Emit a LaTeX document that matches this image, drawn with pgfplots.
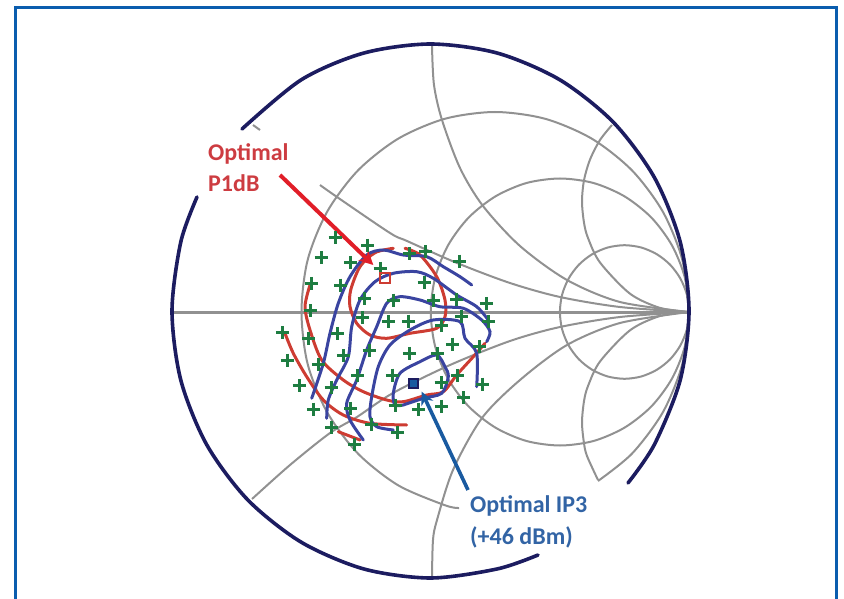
\documentclass[border=0pt]{standalone}
\usepackage{pgfplots}
\pgfplotsset{compat=1.18}
\usepackage{fontspec}
\setmainfont{Carlito}
\usetikzlibrary{arrows.meta}
\definecolor{gridgray}{RGB}{145,145,145}
\definecolor{navyring}{RGB}{28,28,96}
\definecolor{framblue}{RGB}{10,93,174}
\definecolor{cred}{RGB}{205,60,50}
\definecolor{cblue}{RGB}{58,68,160}
\definecolor{arrred}{RGB}{225,30,40}
\definecolor{arrblue}{RGB}{25,90,160}
\definecolor{txtred}{RGB}{205,60,65}
\definecolor{txtblue}{RGB}{50,100,165}
\definecolor{cgreen}{RGB}{30,125,65}
\begin{document}
\begin{tikzpicture}
\useasboundingbox (0,0) rectangle (844pt,599pt);
\begin{axis}[
  scale only axis, width=844pt, height=599pt,
  xmin=0, xmax=844, ymin=0, ymax=599, y dir=reverse,
  hide axis, clip=true,
  grid line/.style={gridgray, line width=2pt, no marks, smooth},
  contourred/.style={cred, line width=3pt, no marks, smooth, line cap=round},
  contourblue/.style={cblue, line width=3pt, no marks, smooth, line cap=round},
]
% frame
\addplot[framblue, line width=3pt, no marks] coordinates {(15.3,605) (15.3,8) (836.7,8) (836.7,605)};
% Smith grid
\addplot[gridgray, line width=2.4pt, no marks] coordinates {(172,312.5) (689,312.5)};
\addplot[grid line] coordinates {(689,312) (682.4,260.2) (663,212) (632.2,170.6) (592,138.8) (545.2,118.8) (495,112) (444.8,118.8) (398,138.8) (357.8,170.6) (327,212) (307.6,260.2) (301.5,312) (307.6,363.8) (327,412) (357.8,453.4) (398,485.2) (444.8,505.2) (459,508)};
\addplot[grid line] coordinates {(598,481) (632.2,453.4) (663,412) (682.4,363.8) (689,312)};
\addplot[grid line] coordinates {(689,312) (684.8,277.4) (671.9,245.25) (651.4,217.6) (624.6,196.4) (593.5,183) (560,178.5) (526.5,183) (495.4,196.4) (468.6,217.6) (448.1,245.25) (435.2,277.4) (430.75,312) (435.2,346.6) (448.1,378.75) (468.6,406.4) (495.4,427.6) (526.5,441) (560,445.5) (593.5,441) (624.6,427.6) (651.4,406.4) (671.9,378.75) (684.8,346.6) (689,312)};
\addplot[grid line] coordinates {(689,312) (686.9,294.7) (680.4,278.6) (670.2,264.8) (656.8,254.2) (641.2,247.5) (624.5,245.2) (607.8,247.5) (592.2,254.2) (578.8,264.8) (568.6,278.6) (562.1,294.7) (559.9,312) (562.1,329.3) (568.6,345.4) (578.8,359.2) (592.2,369.8) (607.8,376.5) (624.5,378.8) (641.2,376.5) (656.8,369.8) (670.2,359.2) (680.4,345.4) (686.9,329.3) (689,312)};
\addplot[grid line] coordinates {(432,46) (434,85) (442,120) (460,168) (483,206) (520,246) (567,280) (620,302) (689,312)};
\addplot[grid line] coordinates {(432,577) (433,540) (437,520) (453,470) (482,418) (520,380) (567,345) (620,323) (689,312)};
\addplot[grid line] coordinates {(612,125) (600,140) (590,159.6) (584,180.3) (582,201.5) (584,222.7) (588,238) (600,262.5) (630,293.7) (660,307.9) (689,312)};
\addplot[grid line] coordinates {(598,480) (587,456) (584,443.3) (582,422.5) (584,401.2) (588,386) (600,361.5) (630,330.3) (660,316) (689,312)};
\addplot[grid line] coordinates {(320,185) (337,197) (390,233) (407,241) (457,263) (510,283) (560,297) (620,307) (689,312)};
\addplot[grid line] coordinates {(253,125) (260,130)};
\addplot[grid line] coordinates {(252,499) (290,465) (330,433) (357,417) (393,393) (450,365) (510,341) (560,327) (620,317) (689,312)};
% outer circle
\addplot[navyring, line width=3.6pt, no marks, smooth, line cap=round] coordinates {(242,129) (301.25,79.8) (363.6,53.1) (430.5,44) (497.4,53.1) (559.8,79.8) (613.3,122.2) (654.4,177.5) (680.2,241.9) (689,311) (680.2,380.1) (654.4,444.5) (628,483)};
\addplot[navyring, line width=3.6pt, no marks, smooth, line cap=round] coordinates {(538,555) (497.4,568.9) (430.5,578) (363.6,568.9) (301.25,542.2) (247.7,499.8) (206.6,444.5) (180.8,380.1) (172,311) (180.8,241.9) (197,197)};
% measured points
\addplot[only marks, mark=+, mark size=6.5pt, cgreen, mark options={line width=3pt}] coordinates {
(335,237.3) (367.7,245) (321,257.7) (350.7,262.7) (409,253.3) (425.7,251.7) (459,261) (380,268.3)
(311.7,283.3) (340.7,285) (424,282.3) (364,298.3) (393.3,300) (433.3,300) (456.7,299.3) (486,303.3)
(310,310.7) (362.7,317.3) (388.3,321.7) (408.3,321) (461.7,316.7) (488.3,321.7) (441.7,325)
(282.3,332.7) (337.3,333.3) (308.3,338.3) (452.3,344) (369,350.7) (409.3,353.3) (343.3,355.7) (437.7,353.3) (479.3,346.7)
(287.3,360) (318.3,364) (357.7,375.7) (392.3,375) (457.3,375) (441,382.3) (482.7,384)
(299,385.7) (331,387.3) (395,405) (313.3,409) (350.7,408.3) (418.3,409.3) (441.7,406) (463.3,397.7)
(331.7,427.3) (371.7,424) (397.7,432.3) (354,444)};
% P1dB contours
\addplot[contourred] coordinates {(405,248.3) (420,255) (436.7,276.7) (445,300) (445,316.7) (436.7,328.3) (410,333.3) (386.7,338.3) (370,335) (356.7,323.3) (350,306.7) (350.7,290) (360,266.7) (375,252.7) (393.3,248.3)};
\addplot[contourred] coordinates {(310,285) (305,306.7) (310,330) (321.7,360) (343.3,380) (363.3,391.7) (386.7,400) (403.3,401.7) (426.7,395) (443.3,391.7) (456.7,375) (473.3,356.7) (485,343.3)};
\addplot[contourred] coordinates {(285,333.3) (293.3,353.3) (306.7,376.7) (323.3,400) (343.3,415) (370,423.3) (406.7,425)};
\addplot[contourred] coordinates {(338.3,431.7) (360,440)};
% IP3 contours
\addplot[contourblue] coordinates {(311.7,398.3) (323.3,363.3) (330,333.3) (338.3,303.3) (350,276.7) (366.7,255) (383.3,250) (403.3,255) (426.7,256.7) (443.3,266.7) (460,276.7) (471.7,285)};
\addplot[contourblue] coordinates {(326.7,418.3) (328.3,400) (336.7,380) (348.3,356.7) (351.7,326.7) (360,300) (375,281.7) (393.3,273.3) (416.7,271.7) (433.3,278.3) (456.7,295) (476.7,306.7) (488.3,320)};
\addplot[contourblue] coordinates {(363.3,440) (350,420) (346.7,403.3) (356.7,380) (366.7,350) (376.7,326.7) (386.7,303.3) (400,296.7) (420,300) (440,306.7) (463.3,308.3) (481.7,320) (490,331.7) (486.7,341.7)};
\addplot[contourblue] coordinates {(393.3,430) (376.7,426.7) (370,416.7) (371.7,396.7) (378.3,366.7) (390,345) (410,330) (433.3,320) (460,321.7) (465,338.3) (476.7,353.3) (476.7,386.7)};
\addplot[contourblue] coordinates {(403.3,405) (395,405) (393.3,393.3) (400,373.3) (420,361.7) (436.7,355) (445,366.7) (448.3,376.7) (441.7,393.3) (423.3,398.3) (403.3,405)};
% optimum points
\addplot[only marks, mark=square, mark size=5pt, cred, mark options={line width=2.4pt}] coordinates {(385,278)};
\addplot[only marks, mark=square*, mark size=4.5pt, navyring, mark options={fill=arrblue, line width=2pt}] coordinates {(413,383)};
% call-outs
\addplot[arrred, line width=4pt, no marks, -{Stealth[length=14pt,width=14pt]}] coordinates {(280,175) (373.3,265)};
\addplot[arrblue, line width=3.6pt, no marks, -{Stealth[length=13pt,width=13pt]}] coordinates {(468,490) (421.7,391.7)};
\node[anchor=base west, inner sep=0pt, text=txtred, font=\fontsize{24}{24}\selectfont\bfseries] at (axis cs:208,161) {Optimal};
\node[anchor=base west, inner sep=0pt, text=txtred, font=\fontsize{24}{24}\selectfont\bfseries] at (axis cs:208,192) {P1dB};
\node[anchor=base west, inner sep=0pt, text=txtblue, font=\fontsize{24}{24}\selectfont\bfseries] at (axis cs:470,512.5) {Optimal IP3};
\node[anchor=base west, inner sep=0pt, text=txtblue, font=\fontsize{24}{24}\selectfont\bfseries] at (axis cs:470,544) {(+46 dBm)};
\end{axis}
\end{tikzpicture}
\end{document}
